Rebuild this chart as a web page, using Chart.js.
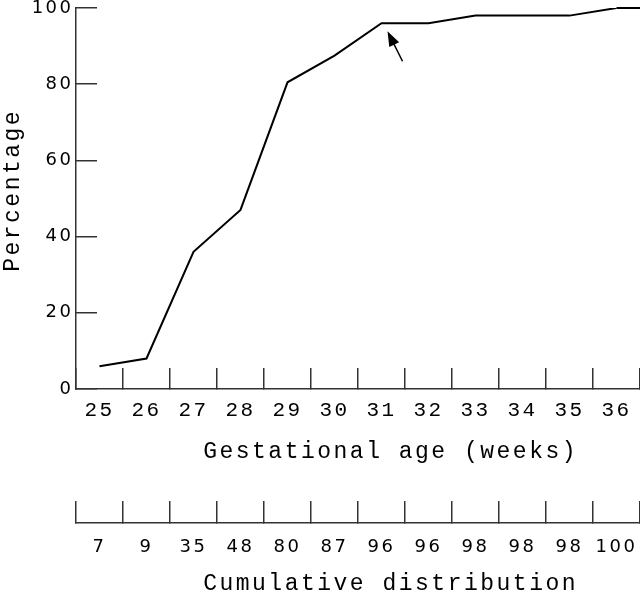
<!DOCTYPE html>
<html>
<head>
<meta charset="utf-8">
<script src="https://cdn.jsdelivr.net/npm/chart.js@4/dist/chart.umd.min.js"></script>
<style>
    html, body { margin: 0; padding: 0; background: #fff; }
    #wrap { width: 640px; height: 596px; }
</style>
</head>
<body>
<div id="wrap"><canvas id="gestChart"></canvas></div>
<script>
const weeks = ['25', '26', '27', '28', '29', '30', '31', '32', '33', '34', '35', '36']
const percentValues = [6, 8, 36, 47, 80.5, 87.5, 96, 96, 98, 98, 98, 100]
const cumulativeLabels = ['7', '9', '35', '48', '80', '87', '96', '96', '98', '98', '98', '100']
const yMin = 0
const yMax = 100
const yStep = 20
const arrowIndex = 6

const monoFont = "'Liberation Mono', 'DejaVu Sans Mono', monospace"
const sansFont = "'DejaVu Sans', sans-serif"
const axisColor = '#333'

// spaced-out lettering like the original figure
const spacingPlugin = {
    id: 'spacing',
    beforeUpdate(chart) { chart.ctx.letterSpacing = '2.5px' },
    beforeDraw(chart) { chart.ctx.letterSpacing = '2.5px' }
}

// line runs on flat to the right edge, plus the arrow at week 31
const extrasPlugin = {
    id: 'extras',
    afterDatasetsDraw(chart) {
        const ctx = chart.ctx
        const pts = chart.getDatasetMeta(0).data
        const last = pts[pts.length - 1]
        ctx.save()
        ctx.strokeStyle = '#000'
        ctx.lineWidth = 2
        ctx.beginPath()
        ctx.moveTo(last.x, last.y)
        ctx.lineTo(chart.chartArea.right, last.y)
        ctx.stroke()

        const p = pts[arrowIndex]
        const tipX = p.x + 6, tipY = p.y + 8
        const tailX = p.x + 21, tailY = p.y + 38
        const ang = Math.atan2(tipY - tailY, tipX - tailX)
        ctx.lineWidth = 1.5
        ctx.beginPath()
        ctx.moveTo(tailX, tailY)
        ctx.lineTo(tipX - 8 * Math.cos(ang), tipY - 8 * Math.sin(ang))
        ctx.stroke()
        ctx.fillStyle = '#000'
        ctx.beginPath()
        ctx.moveTo(tipX, tipY)
        ctx.lineTo(tipX - 15 * Math.cos(ang) + 5.5 * Math.sin(ang), tipY - 15 * Math.sin(ang) - 5.5 * Math.cos(ang))
        ctx.lineTo(tipX - 15 * Math.cos(ang) - 5.5 * Math.sin(ang), tipY - 15 * Math.sin(ang) + 5.5 * Math.cos(ang))
        ctx.closePath()
        ctx.fill()
        ctx.restore()
    }
}

const data = {
    labels: weeks,
    datasets: [{
        label: 'Percentage',
        data: percentValues,
        borderColor: '#000',
        borderWidth: 2,
        pointRadius: 0,
        tension: 0,
        fill: false
    }]
}

const config = {
    type: 'line',
    data: data,
    options: {
        responsive: true,
        maintainAspectRatio: false,
        animation: false,
        layout: { padding: 0 },
        plugins: {
            legend: { display: false },
            tooltip: { enabled: false }
        },
        scales: {
            x: {
                type: 'category',
                position: 'bottom',
                weight: 0,
                offset: true,
                grid: {
                    offset: true,
                    drawOnChartArea: false,
                    tickLength: -21,
                    color: axisColor,
                    lineWidth: 1.5
                },
                border: { display: true, color: axisColor, width: 1.5 },
                ticks: {
                    color: '#000',
                    padding: 30,
                    maxRotation: 0,
                    autoSkip: false,
                    font: { family: monoFont, size: 21 }
                },
                title: {
                    display: true,
                    // leading spaces push the title right, as in the original
                    text: '    Gestational age (weeks)',
                    color: '#000',
                    padding: { top: 0, bottom: 57 },
                    font: { family: monoFont, size: 23 }
                },
                afterFit: (scale) => {
                    scale.height = 134
                    scale.paddingLeft = 0
                    scale.paddingRight = 0
                }
            },
            x2: {
                type: 'category',
                position: 'bottom',
                weight: 1,
                labels: cumulativeLabels,
                offset: true,
                grid: {
                    offset: true,
                    drawOnChartArea: false,
                    tickLength: -22,
                    color: axisColor,
                    lineWidth: 1.5
                },
                border: { display: true, color: axisColor, width: 1.5 },
                ticks: {
                    color: '#000',
                    padding: 36,
                    maxRotation: 0,
                    autoSkip: false,
                    font: { family: sansFont, size: 18 }
                },
                title: {
                    display: true,
                    text: '    Cumulative distribution',
                    color: '#000',
                    padding: { top: 0, bottom: -2 },
                    font: { family: monoFont, size: 23 }
                },
                afterFit: (scale) => {
                    scale.height = 73
                    scale.paddingLeft = 0
                    scale.paddingRight = 0
                }
            },
            y: {
                min: yMin,
                max: yMax,
                grid: {
                    drawOnChartArea: false,
                    tickLength: -21,
                    color: axisColor,
                    lineWidth: 1.5
                },
                border: { display: true, color: axisColor, width: 1.5 },
                ticks: {
                    stepSize: yStep,
                    color: '#000',
                    padding: 23.5,
                    font: { family: sansFont, size: 18 }
                },
                title: {
                    display: true,
                    text: ' Percentage',
                    color: '#000',
                    padding: { top: -1, bottom: 0 },
                    font: { family: monoFont, size: 23 }
                },
                afterFit: (scale) => {
                    scale.width = 76
                    scale.paddingTop = 8
                    scale.paddingBottom = 0
                }
            }
        }
    },
    plugins: [spacingPlugin, extrasPlugin]
}

const gestChart = new Chart(document.getElementById('gestChart'), config)
</script>
</body>
</html>
